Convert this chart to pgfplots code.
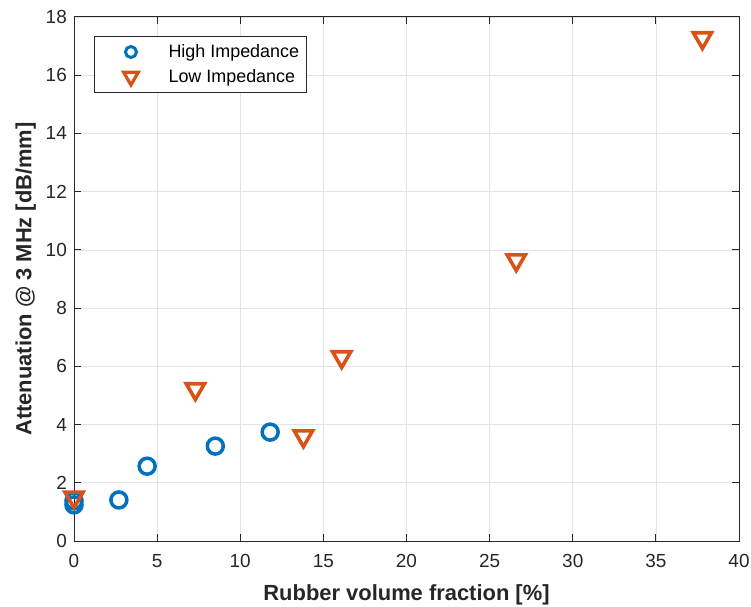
\documentclass[border=0pt]{standalone}
\usepackage{pgfplots}
\pgfplotsset{compat=1.18}
\usepackage{fontspec}
\setmainfont{Liberation Sans}
\definecolor{mblue}{RGB}{0,114,189}
\definecolor{morange}{RGB}{217,83,25}
\begin{document}
\begin{tikzpicture}
\begin{axis}[
  name=ax,
  scale only axis,
  width=665bp, height=524bp,
  xmin=0, xmax=40, ymin=0, ymax=18,
  xtick={0,5,...,40}, ytick={0,2,...,18},
  grid=major,
  grid style={gray!22, line width=0.7pt},
  axis line style={line width=1pt, black!85},
  tick style={line width=1pt, black!85},
  tick align=inside,
  major tick length=7bp,
  /pgf/number format/assume math mode=true,
  ticklabel style={font=\fontsize{19}{21}\selectfont, text=black!85},
  yticklabel style={anchor=east, inner sep=0pt, xshift=-7bp},
  xticklabel style={anchor=north, inner sep=0pt, yshift=-13bp},
  xlabel={\bfseries Rubber volume fraction [\%]},
  ylabel={\bfseries Attenuation @ 3 MHz [dB/mm]},
  label style={font=\fontsize{22}{24}\selectfont, text=black!85, inner sep=0pt},
  xlabel style={at={(axis description cs:0.5,0)}, anchor=base, yshift=-59bp},
  ylabel style={at={(axis description cs:0,0.5)}, anchor=south, yshift=38bp},
  legend style={at={(0.030,0.964)}, anchor=north west, draw=black!85, line width=0.8pt,
    font=\fontsize{18}{20}\selectfont, inner xsep=5bp, inner ysep=6.5bp, row sep=6bp},
  legend cell align=left,
  legend image code/.code={%
    \path (0bp,0bp) (64bp,0bp);
    \draw[#1] plot coordinates {(30bp,0bp)};},
]
\addplot[only marks, mark=o, mark size=8bp, mblue, line width=3.5bp,
  legend image post style={mark size=5.5bp, line width=3bp}]
coordinates {(0,1.24) (0,1.38) (2.7,1.41) (4.4,2.57) (8.5,3.26) (11.8,3.74)};
\addlegendentry{High Impedance}
\addplot[only marks, mark=triangle, mark size=10.5bp, morange, line width=3.6bp, mark options={rotate=180},
  legend image post style={mark size=8.5bp, line width=3.2bp}]
coordinates {(0,1.5) (7.3,5.22) (13.8,3.6) (16.1,6.32) (26.6,9.65) (37.8,17.28)};
\addlegendentry{Low Impedance}
\end{axis}
\pgfresetboundingbox
\path ([xshift=-74bp,yshift=-66bp]ax.south west) rectangle ([xshift=12bp,yshift=17bp]ax.north east);
\end{tikzpicture}
\end{document}
